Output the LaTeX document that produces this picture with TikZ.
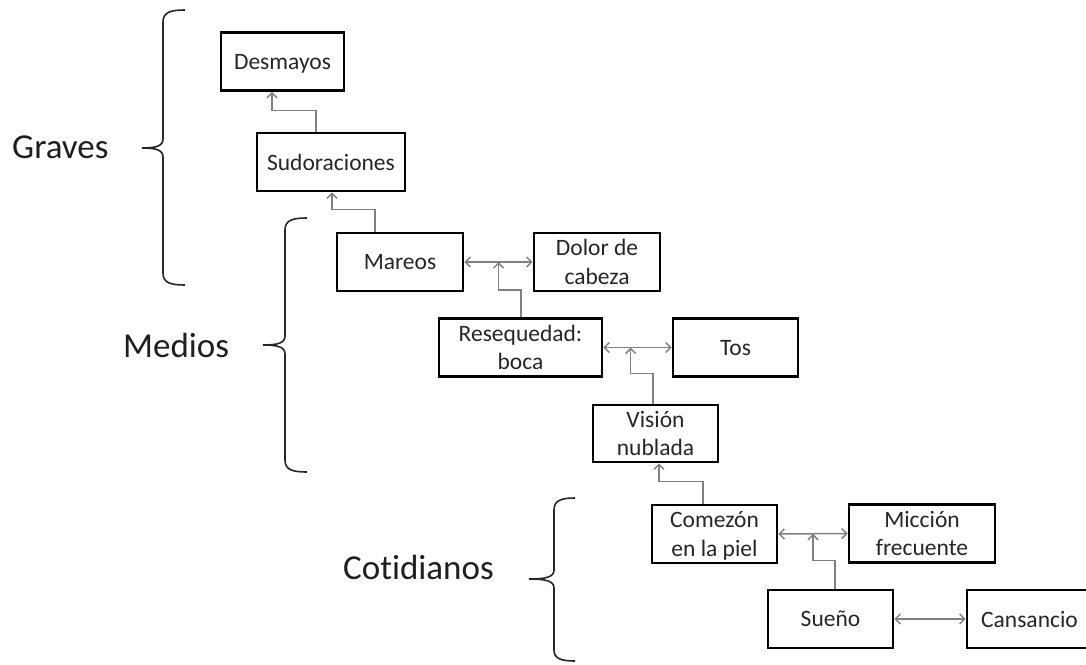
\documentclass[tikz,border=0pt]{standalone}
\usepackage{fontspec}
\setmainfont{Carlito}[Ligatures=NoCommon]
\usetikzlibrary{arrows.meta,calc}

\tikzset{
  box/.style={draw=black, line width=2.6pt, fill=white, align=center,
    minimum height=58pt, inner sep=0pt, text=black!85, text depth=0pt,
    font=\fontsize{23.5}{28.5}\selectfont},
  link/.style={draw=black!50, line width=1.5pt,
    arrows={-Straight Barb[length=5pt,width=10pt]}},
  dlink/.style={draw=black!50, line width=1.5pt,
    arrows={Straight Barb[length=5pt,width=10pt]-Straight Barb[length=5pt,width=10pt]}},
  brace/.style={draw=black!85, line width=1.6pt},
  group/.style={anchor=base west, inner sep=0pt, text=black!88,
    font=\fontsize{35}{42}\selectfont}
}

\begin{document}
\begin{tikzpicture}[x=1pt,y=-1pt]
  \useasboundingbox (0,0) rectangle (1086,664);
  \clip (0,0) rectangle (1086,664);
  \fill[white] (0,0) rectangle (1086,664);

  % symptom boxes
  \node[box, minimum width=123pt] (desm) at (282.5,61.5) {Desmayos};
  \node[box, minimum width=148pt] (sud)  at (331,162)   {Sudoraciones};
  \node[box, minimum width=126pt] (mar)  at (400,262)   {Mareos};
  \node[box, minimum width=126pt] (dol)  at (597,262)   {Dolor de\\cabeza};
  \node[box, minimum width=163pt] (res)  at (520.5,347.5) {Resequedad:\\boca};
  \node[box, minimum width=125pt] (tos)  at (735.5,347.5) {Tos};
  \node[box, minimum width=125pt, minimum height=57pt] (vis) at (655.5,433.5) {Visión\\nublada};
  \node[box, minimum width=125pt] (com)  at (714.5,534) {Comezón\\en la piel};
  \node[box, minimum width=146pt] (mic)  at (922,533.5) {Micción\\frecuente};
  \node[box, minimum width=125pt] (sue)  at (830.5,619) {Sueño};
  \node[box, minimum width=125pt] (can)  at (1029.5,619) {Cansancio};

  % junctions on the horizontal links
  \coordinate (j1) at ($(mar.east)!0.5!(dol.west)$);
  \coordinate (j2) at ($(res.east)!0.4!(tos.west)$);
  \coordinate (j3) at ($(com.east)!0.5!(mic.west)$);

  % horizontal two-way links
  \draw[dlink] (mar.east) -- (dol.west);
  \draw[dlink] (res.east) -- (tos.west);
  \draw[dlink] (com.east) -- (mic.west);
  \draw[dlink] (sue.east) -- (can.west);

  % upward links
  \draw[link] ([xshift=-15pt]sud.north) -- ++(0,-21) -| ([xshift=-10.5pt]desm.south);
  \draw[link] ([xshift=-25pt]mar.north) -- ++(0,-22) -| ([xshift=1pt]sud.south);
  \draw[link] ([xshift=0.5pt]res.north) -- ++(0,-27) -| (j1);
  \draw[link] ([xshift=-2.5pt]vis.north) -- ++(0,-30) -| (j2);
  \draw[link] ([xshift=-11.5pt]com.north) -- ++(0,-22) -| ([xshift=3.5pt]vis.south);
  \draw[link] ([xshift=4.5pt]sue.north) -- ++(0,-28) -| (j3);

  % group braces
  \draw[brace] (185,10) .. controls (171,10) and (163,12) .. (163,22)
    -- (163,139) .. controls (163,146) and (156,148) .. (142,148)
    .. controls (156,148) and (163,150) .. (163,157)
    -- (163,273) .. controls (163,283) and (171,285) .. (185,285);
  \draw[brace] (307,218) .. controls (293,218) and (285,220) .. (285,230)
    -- (285,336) .. controls (285,343) and (278,345) .. (263,345)
    .. controls (278,345) and (285,347) .. (285,354)
    -- (285,460) .. controls (285,470) and (293,472) .. (307,472);
  \draw[brace] (575,498) .. controls (562,498) and (554,500) .. (554,510)
    -- (554,570) .. controls (554,577) and (546,579) .. (529,579)
    .. controls (546,579) and (554,581) .. (554,588)
    -- (554,650) .. controls (554,659) and (562,661) .. (575,661);

  % group labels
  \node[group] (lgr) at (12,158) {Graves};
  \node[group] (lme) at (123,357) {Medios};
  \node[group] (lco) at (343,579) {Cotidianos};
\end{tikzpicture}
\end{document}
